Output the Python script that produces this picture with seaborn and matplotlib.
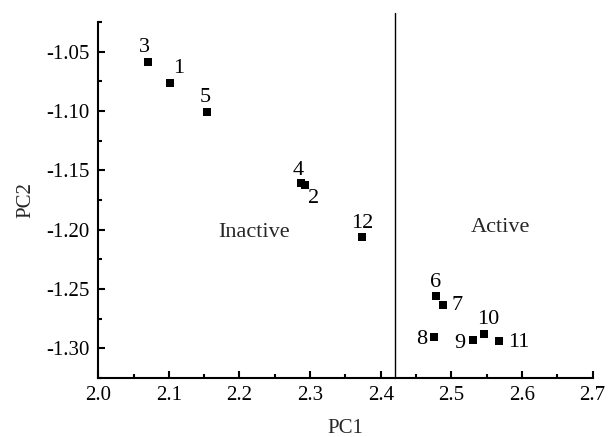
import matplotlib
matplotlib.use("Agg")
import matplotlib.pyplot as plt
from matplotlib.ticker import MultipleLocator, FormatStrFormatter
import seaborn as sns
import pandas as pd

labels = ["1", "2", "3", "4", "5", "6", "7", "8", "9", "10", "11", "12"]
pc1 = [2.102, 2.293, 2.070, 2.287, 2.154, 2.478, 2.488, 2.475, 2.530, 2.546, 2.568, 2.374]
pc2 = [-1.076, -1.1625, -1.0584, -1.1604, -1.1005, -1.2562, -1.2638, -1.2905, -1.2928, -1.2875, -1.2940, -1.2065]
threshold = 2.42

df = pd.DataFrame({"PC1": pc1, "PC2": pc2, "label": labels})

sns.set_theme(style="ticks")
plt.rcParams["font.family"] = ["Liberation Serif", "DejaVu Serif"]
plt.rcParams["axes.unicode_minus"] = False

fig = plt.figure(figsize=(6.1, 4.37), dpi=100)
ax = fig.add_axes([0.161, 0.135, 0.8105, 0.8146])

sns.scatterplot(data=df, x="PC1", y="PC2", marker="s", color="black",
                s=30, edgecolor="black", linewidth=0, ax=ax, zorder=3)

# label offsets in points (style only)
offsets = {
    "1": (2, 3, "left", "bottom"),
    "2": (2, -3, "left", "top"),
    "3": (-2, 3, "center", "bottom"),
    "4": (-2, 2, "center", "bottom"),
    "5": (-1, 3, "center", "bottom"),
    "6": (0, 3, "center", "bottom"),
    "7": (6, 0, "left", "center"),
    "8": (-5, -2, "right", "center"),
    "9": (-5, -3, "right", "center"),
    "10": (3, 3, "center", "bottom"),
    "11": (6, -1, "left", "center"),
    "12": (0, 3, "center", "bottom"),
}
for x, y, lab in zip(pc1, pc2, labels):
    dx, dy, ha, va = offsets[lab]
    ax.annotate(lab, (x, y), xytext=(dx, dy), textcoords="offset points",
                ha=ha, va=va, fontsize=16, color="black")

ax.axvline(threshold, ymin=0, ymax=1.025, color="black", linewidth=1.0, clip_on=False)

ax.text(2.22, -1.2025, "Inactive", ha="center", va="center", fontsize=16)
ax.text(2.57, -1.198, "Active", ha="center", va="center", fontsize=16)

ax.set_xlim(2.0, 2.7)
ax.set_ylim(-1.325, -1.025)
ax.xaxis.set_major_locator(MultipleLocator(0.1))
ax.xaxis.set_minor_locator(MultipleLocator(0.05))
ax.yaxis.set_major_locator(MultipleLocator(0.05))
ax.yaxis.set_minor_locator(MultipleLocator(0.025))
ax.xaxis.set_major_formatter(FormatStrFormatter("%.1f"))
ax.yaxis.set_major_formatter(FormatStrFormatter("%.2f"))

ax.tick_params(axis="both", which="major", direction="in", length=5, width=1.5,
               labelsize=15, colors="black", pad=6)
ax.tick_params(axis="both", which="minor", direction="in", length=3, width=1.5, colors="black")

for side in ["top", "right"]:
    ax.spines[side].set_visible(False)
for side in ["left", "bottom"]:
    ax.spines[side].set_linewidth(1.5)
    ax.spines[side].set_color("black")

ax.set_xlabel("PC1", fontsize=15, labelpad=10)
ax.set_ylabel("PC2", fontsize=15, labelpad=8)

fig.savefig("out.png", dpi=100)
